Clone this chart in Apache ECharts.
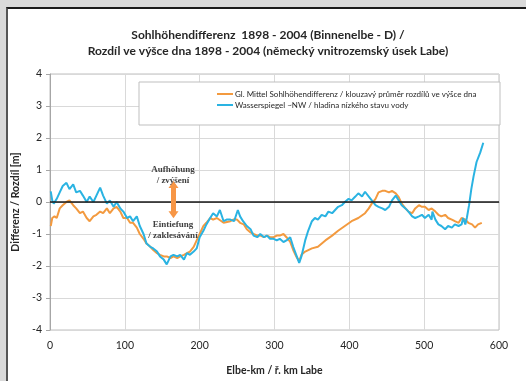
<!DOCTYPE html>
<html>
<head>
<meta charset="utf-8">
<script src="https://cdn.jsdelivr.net/npm/echarts@6/dist/echarts.min.js"></script>
<style>
  html, body { margin: 0; padding: 0; background: #d9d9d9; }
  #panel { position: absolute; left: 6px; top: 7px; width: 520px; height: 374px;
           background: #ffffff; border-top: 2px solid #1a1a1a; border-left: 2px solid #555; box-sizing: border-box; }
  #chart { position: absolute; left: 0; top: 0; width: 526px; height: 381px; }
</style>
</head>
<body>
<div id="panel"></div>
<div id="chart"></div>
<script>
// Elbe river kilometre vs. change in bed level (m), 1898 - 2004
const bedKm = [1,3,6,9,13,17,22,26,31,35,40,44,49,53,58,62,67,71,76,80,85,89,94,98,103,107,111,116,120,125,129,134,138,143,147,152,156,161,165,170,174,179,183,187,192,196,200,205,209,214,218,223,232,241,245,250,254,259,263,268,272,277,281,286,290,294,299,303,307,312,316,321,325,329,333,336,341,350,358,368,377,385,394,403,412,421,426,430,435,439,444,448,453,457,462,466,470,475,479,484,488,493,497,501,506,510,515,519,523,528,532,537,541,546,550,555,559,564,568,572,577];
const bedDiff = [-0.75,-0.5,-0.45,-0.5,-0.2,-0.1,0,0.05,-0.1,-0.2,-0.35,-0.3,-0.5,-0.6,-0.45,-0.4,-0.3,-0.35,-0.2,-0.35,-0.2,-0.15,-0.3,-0.5,-0.5,-0.65,-0.65,-0.8,-1.0,-1.15,-1.3,-1.4,-1.5,-1.6,-1.65,-1.7,-1.7,-1.75,-1.7,-1.75,-1.7,-1.65,-1.6,-1.55,-1.4,-1.2,-1.0,-0.75,-0.65,-0.5,-0.55,-0.5,-0.65,-0.6,-0.55,-0.55,-0.65,-0.7,-0.85,-0.95,-1.0,-1.05,-1.05,-1.1,-1.05,-1.1,-1.1,-1.05,-1.05,-1.0,-1.1,-1.25,-1.5,-1.7,-1.85,-1.65,-1.55,-1.45,-1.4,-1.2,-1.05,-0.9,-0.75,-0.6,-0.5,-0.35,-0.2,-0.05,0.1,0.3,0.35,0.35,0.3,0.35,0.27,0.15,-0.05,-0.2,-0.3,-0.35,-0.2,-0.1,-0.15,-0.15,-0.25,-0.2,-0.3,-0.4,-0.45,-0.4,-0.5,-0.55,-0.6,-0.65,-0.5,-0.55,-0.65,-0.7,-0.8,-0.7,-0.65];

const waterKm = [1,3,5,7,9,13,17,22,26,31,35,40,44,49,53,58,62,67,71,76,80,85,89,94,98,103,107,111,116,120,125,129,134,138,143,147,152,156,161,165,170,174,179,183,187,192,196,200,205,209,214,218,223,227,232,236,241,246,251,254,258,263,268,272,277,281,286,290,294,299,303,307,312,316,321,325,329,333,336,341,345,350,354,358,363,368,372,377,381,385,390,394,399,403,408,412,417,421,426,430,435,439,444,448,453,457,462,466,470,475,479,484,488,493,497,501,506,510,511,515,519,523,528,532,537,541,546,550,552,555,557,560,563,566,570,575,579];
const waterDiff = [0.33,0.05,-0.05,-0.1,0.1,0.3,0.5,0.6,0.4,0.55,0.3,0.35,0.2,0,0.17,0,0.2,0.45,0.2,-0.05,0.05,-0.15,0,-0.2,-0.3,-0.5,-0.45,-0.6,-0.45,-0.75,-1.0,-1.3,-1.4,-1.45,-1.55,-1.7,-1.8,-1.95,-1.7,-1.65,-1.7,-1.65,-1.8,-1.6,-1.65,-1.55,-1.45,-1.1,-0.9,-0.7,-0.5,-0.35,-0.45,-0.25,-0.6,-0.55,-0.55,-0.6,-0.25,-0.45,-0.6,-0.75,-0.85,-1.05,-1.1,-1.0,-1.1,-1.05,-1.15,-1.15,-1.2,-1.15,-1.25,-1.2,-1.1,-1.4,-1.65,-1.9,-1.7,-1.2,-0.9,-0.6,-0.5,-0.55,-0.4,-0.45,-0.3,-0.35,-0.25,-0.15,-0.1,0,0.1,0.05,0.17,0.27,0.17,0.32,0.17,0.05,-0.1,-0.15,-0.2,-0.25,-0.15,0.05,0.2,0.05,-0.1,-0.2,-0.3,-0.45,-0.5,-0.45,-0.4,-0.5,-0.4,-0.55,-0.3,-0.55,-0.7,-0.75,-0.85,-0.75,-0.8,-0.7,-0.75,-0.7,-0.5,-0.7,-0.5,-0.1,0.4,0.8,1.25,1.55,1.85];

const xTicks = [0, 100, 200, 300, 400, 500, 600];
const yTicks = [-4, -3, -2, -1, 0, 1, 2, 3, 4];

const bedName = 'Gl. Mittel Sohlhöhendifferenz / klouzavý průměr rozdílů ve výšce dna';
const waterName = 'Wasserspiegel ~NW / hladina nízkého stavu vody';

const pairs = (xs, ys) => xs.map((x, i) => [x, ys[i]]);

const chart = echarts.init(document.getElementById('chart'), null, { renderer: 'canvas' });
const font = 'Lato, "Open Sans", sans-serif';
const serif = '"Liberation Serif", "DejaVu Serif", serif';

chart.setOption({
  backgroundColor: 'transparent',
  animation: false,
  textStyle: { fontFamily: font },
  title: {
    text: 'Sohlhöhendifferenz  1898 - 2004 (Binnenelbe - D) /\nRozdíl ve výšce dna 1898 - 2004 (německý vnitrozemský úsek Labe)',
    left: 263, top: 22, textAlign: 'center',
    textStyle: { fontFamily: font, fontSize: 12, fontWeight: 'bold', color: '#262626', lineHeight: 16 }
  },
  grid: { left: 50, right: 27, top: 74, bottom: 48, show: true, borderColor: '#bfbfbf', borderWidth: 1 },
  legend: {
    orient: 'vertical', left: 212, top: 85, itemGap: 3, itemWidth: 16, itemHeight: 2, icon: 'rect',
    textStyle: { fontFamily: font, fontSize: 8, color: '#262626', padding: [0, 0, 0, -3] },
    data: [bedName, waterName], z: 10
  },
  xAxis: {
    type: 'value', min: 0, max: 600, interval: 100,
    name: 'Elbe-km / ř. km Labe', nameLocation: 'middle', nameGap: 35,
    nameTextStyle: { fontFamily: font, fontSize: 10.5, fontWeight: 'bold', color: '#262626' },
    axisLine: { show: true, lineStyle: { color: '#a6a6a6' } },
    axisTick: { show: false },
    axisLabel: { fontSize: 10.5, color: '#262626', margin: 10, customValues: xTicks },
    splitLine: { show: true, lineStyle: { color: '#d9d9d9' } }
  },
  yAxis: {
    type: 'value', min: -4, max: 4, interval: 1,
    name: 'Differenz / Rozdíl [m]', nameLocation: 'middle', nameGap: 21,
    nameTextStyle: { fontFamily: font, fontSize: 10.5, fontWeight: 'bold', color: '#262626' },
    axisLine: { show: true, lineStyle: { color: '#a6a6a6' } },
    axisTick: { show: true, length: 4, lineStyle: { color: '#a6a6a6' } },
    axisLabel: { fontSize: 10.5, color: '#262626', margin: 8 },
    splitLine: { show: true, lineStyle: { color: '#d9d9d9' } }
  },
  series: [
    {
      name: bedName, type: 'line', data: pairs(bedKm, bedDiff), showSymbol: false, z: 3,
      lineStyle: { color: '#f39a3f', width: 2 }, itemStyle: { color: '#f39a3f' },
      markLine: {
        silent: true, symbol: 'none', animation: false,
        lineStyle: { color: '#1a1a1a', width: 1.5, type: 'solid' }, label: { show: false },
        data: [{ yAxis: 0 }]
      }
    },
    {
      name: waterName, type: 'line', data: pairs(waterKm, waterDiff), showSymbol: false, z: 4,
      lineStyle: { color: '#2ab3e2', width: 2 }, itemStyle: { color: '#2ab3e2' },
      markLine: {
        silent: true, symbol: ['triangle', 'triangle'], symbolSize: [10, 7], animation: false,
        lineStyle: { color: '#f79646', width: 5, type: 'solid' }, label: { show: false },
        data: [[{ coord: [165, 0.55] }, { coord: [165, -0.4] }]]
      }
    }
  ],
  graphic: [
    { type: 'rect', shape: { x: 139, y: 82, width: 361, height: 43 }, z: 5,
      style: { fill: '#ffffff', stroke: '#bfbfbf', lineWidth: 1 } },
    { type: 'text', x: 173, y: 170, z: 6, style: { text: 'Aufhöhung', fontFamily: serif, fontSize: 9, fontWeight: 'bold', fill: '#404040', align: 'center', verticalAlign: 'middle' } },
    { type: 'text', x: 173, y: 181, z: 6, style: { text: '/ zvýšení', fontFamily: serif, fontSize: 9, fontWeight: 'bold', fill: '#404040', align: 'center', verticalAlign: 'middle' } },
    { type: 'text', x: 173, y: 225, z: 6, style: { text: 'Eintiefung', fontFamily: serif, fontSize: 9, fontWeight: 'bold', fill: '#404040', align: 'center', verticalAlign: 'middle' } },
    { type: 'text', x: 173, y: 236, z: 6, style: { text: '/ zaklesávání', fontFamily: serif, fontSize: 9, fontWeight: 'bold', fill: '#404040', align: 'center', verticalAlign: 'middle' } }
  ]
});
</script>
</body>
</html>
